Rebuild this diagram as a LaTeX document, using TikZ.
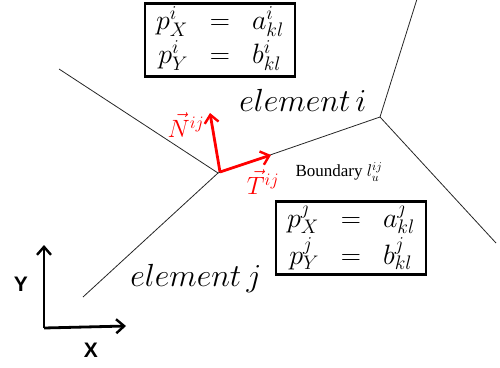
\RequirePackage{fix-cm}
\documentclass[tikz,border=0pt]{standalone}
\usepackage{fontspec}
\newfontfamily\axfont{Liberation Sans}
\newfontfamily\bdfont{Liberation Serif}
\usetikzlibrary{arrows.meta}
\begin{document}
\begin{tikzpicture}[x=1pt,y=-1pt,
  edge/.style={line width=0.8pt,black!85},
  eqbox/.style={draw,line width=2.8pt,inner sep=0pt,minimum width=150pt,minimum height=73pt,font=\fontsize{28}{34}\selectfont},
  redarrow/.style={red,line width=2.8pt,-{Straight Barb[length=8pt,width=14pt,line width=2.4pt]}},
  axarrow/.style={black,line width=2.8pt,-{Straight Barb[length=8pt,width=14pt,line width=2.4pt]}},
  elabel/.style={font=\fontsize{32}{36}\selectfont},
  axlabel/.style={font=\axfont\bfseries\fontsize{21}{24}\selectfont}]
\useasboundingbox (0,0) rectangle (500,367);
% vertices and free ends
\coordinate (A) at (218,173);
\coordinate (B) at (380,117);
\coordinate (ul) at (59,69);
\coordinate (ll) at (83,297);
\coordinate (up) at (417,-1);
\coordinate (lr) at (496,243);
\draw[edge] (ul) -- (A) -- (B) -- (up);
\draw[edge] (ll) -- (A);
\draw[edge] (B) -- (lr);
% boxes
\node[eqbox] (boxi) at (220,40) {$\arraycolsep=11pt\begin{array}{@{}rcl@{}}p^i_X & = & a^i_{kl}\\ p^i_Y & = & b^i_{kl}\end{array}$};
\node[eqbox] (boxj) at (351,238) {$\arraycolsep=11pt\begin{array}{@{}rcl@{}}p^j_X & = & a^j_{kl}\\ p^j_Y & = & b^j_{kl}\end{array}$};
% element labels
\node[elabel] (ei) at (303,100) {$element\,i$};
\node[elabel] (ej) at (196,278) {$element\,j$};
% red vectors
\coordinate (O) at (220,172);
\coordinate (Tend) at (271,155);
\coordinate (Nend) at (210,113);
\draw[redarrow] (O) -- (Tend);
\draw[redarrow] (O) -- (Nend);
\node[red,font=\fontsize{25}{28}\selectfont] (Nl) at (186,125) {$\vec N^{ij}$};
\node[red,font=\fontsize{25}{28}\selectfont] (Tl) at (263,182) {$\vec T^{ij}$};
\node[font=\bdfont\fontsize{17}{20}\selectfont] (bd) at (339,172) {Boundary $l^{ij}_u$};
% axes
\coordinate (O2) at (44,328);
\coordinate (Xe) at (126,326);
\coordinate (Ye) at (44,245);
\draw[axarrow] (O2) -- (Xe);
\draw[axarrow] (O2) -- (Ye);
\node[axlabel] (Yl) at (21,284) {Y};
\node[axlabel] (Xl) at (91,350) {X};
\end{tikzpicture}
\end{document}
